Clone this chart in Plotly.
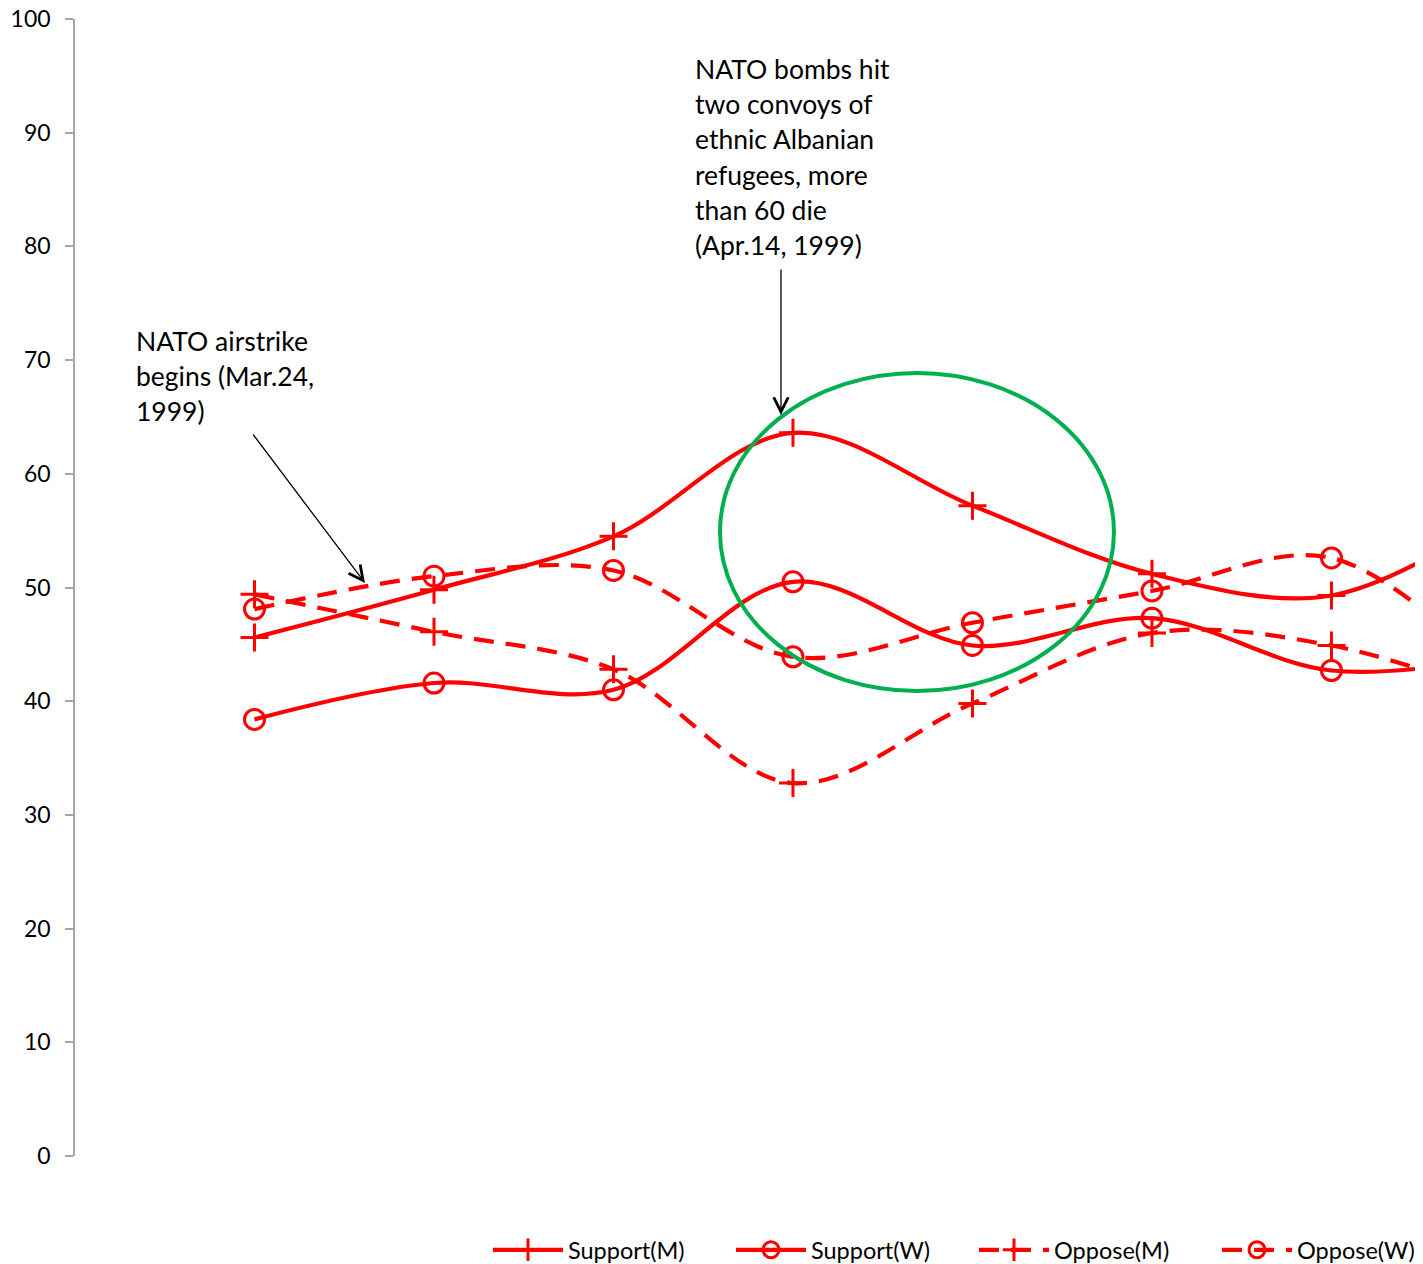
import plotly.graph_objects as go

# ---- data ----
x_pos = [1, 2, 3, 4, 5, 6, 7, 8]
support_m = [45.6, 49.8, 54.5, 63.6, 57.2, 51.2, 49.3, 57.0]
support_w = [38.4, 41.6, 41.0, 50.5, 44.9, 47.3, 42.7, 44.0]
oppose_m = [49.4, 46.1, 42.8, 32.8, 39.8, 46.0, 44.9, 40.0]
oppose_w = [48.1, 51.0, 51.5, 43.9, 46.9, 49.7, 52.6, 41.0]
y_ticks = [0, 10, 20, 30, 40, 50, 60, 70, 80, 90, 100]

ann1_lines = ["NATO airstrike", "begins (Mar.24,", "1999)"]
ann2_lines = ["NATO bombs hit", "two convoys of", "ethnic Albanian", "refugees, more", "than 60 die", "(Apr.14, 1999)"]

RED = "#FF0000"
FONT = "Lato, 'Open Sans', sans-serif"

OFF = 8  # page body margin
W, H = 1415, 1256
L, R, T, B = 67, 0, 11, 108
XMAX = 7.51
PLOT_W = W - L - R
PLOT_H = H - T - B


def px_x(px):
    return (px - OFF - L) / PLOT_W


def px_y(py):
    return 1 - (py - OFF - T) / PLOT_H


fig = go.Figure()

series = [
    ("Support(M)", support_m, "solid", "cross-thin-open"),
    ("Support(W)", support_w, "solid", "circle-open"),
    ("Oppose(M)", oppose_m, "20px,12px", "cross-thin-open"),
    ("Oppose(W)", oppose_w, "20px,12px", "circle-open"),
]
for name, vals, dash, sym in series:
    fig.add_trace(go.Scatter(
        x=x_pos, y=vals, name=name, mode="lines+markers",
        line=dict(color=RED, width=4.2, dash=dash, shape="spline", smoothing=1.0),
        marker=dict(symbol=sym, size=20, color=RED, line=dict(color=RED, width=3)),
        cliponaxis=True,
    ))

# green ellipse
fig.add_shape(type="circle", xref="x", yref="y",
              x0=(720 - 75) / 179.5, x1=(1114 - 75) / 179.5,
              y0=(1156 - 691) / 11.37, y1=(1156 - 373) / 11.37,
              line=dict(color="#00B050", width=4))

annotations = []
for i, t in enumerate(ann1_lines):
    annotations.append(dict(xref="paper", yref="paper", x=px_x(134), y=px_y(341 + 35.2 * i),
                            xanchor="left", yanchor="middle", text=t, showarrow=False,
                            font=dict(family=FONT, size=26.5, color="black")))
for i, t in enumerate(ann2_lines):
    annotations.append(dict(xref="paper", yref="paper", x=px_x(693), y=px_y(69 + 35.2 * i),
                            xanchor="left", yanchor="middle", text=t, showarrow=False,
                            font=dict(family=FONT, size=26.5, color="black")))

# arrows
annotations.append(dict(x=(365 - 75) / 179.5, y=(1156 - 583) / 11.37, xref="x", yref="y",
                        ax=-113, ay=-150, axref="pixel", ayref="pixel", text="",
                        showarrow=True, arrowhead=5, arrowsize=2.2, arrowwidth=1.3,
                        arrowcolor="black"))
annotations.append(dict(x=(781 - 75) / 179.5, y=(1156 - 415) / 11.37, xref="x", yref="y",
                        ax=0, ay=-147, axref="pixel", ayref="pixel", text="",
                        showarrow=True, arrowhead=5, arrowsize=2.2, arrowwidth=1.3,
                        arrowcolor="black"))

fig.update_layout(
    width=W, height=H,
    margin=dict(l=L, r=R, t=T, b=B, autoexpand=False),
    paper_bgcolor="white", plot_bgcolor="white",
    font=dict(family=FONT, size=23, color="black"),
    showlegend=True,
    legend=dict(orientation="h", x=px_x(488), xanchor="left", y=px_y(1250), yanchor="middle",
                font=dict(family=FONT, size=23.5, color="black"), itemwidth=70,
                entrywidth=158, entrywidthmode="pixels",
                bgcolor="rgba(0,0,0,0)"),
    annotations=annotations,
    xaxis=dict(range=[0, XMAX], showticklabels=False, showgrid=False, zeroline=False,
               showline=False, ticks=""),
    yaxis=dict(range=[0, 100], tickvals=y_ticks, showgrid=False, zeroline=False,
               showline=True, linecolor="#A6A6A6", linewidth=1.5,
               ticks="outside", ticklen=8, tickcolor="#A6A6A6", tickwidth=1.5,
               ticklabeloverflow="allow",
               tickfont=dict(family=FONT, size=23, color="black"), ticklabelstandoff=10),
)

fig.write_html("out.html", post_script="document.body.style.overflow='hidden';")
